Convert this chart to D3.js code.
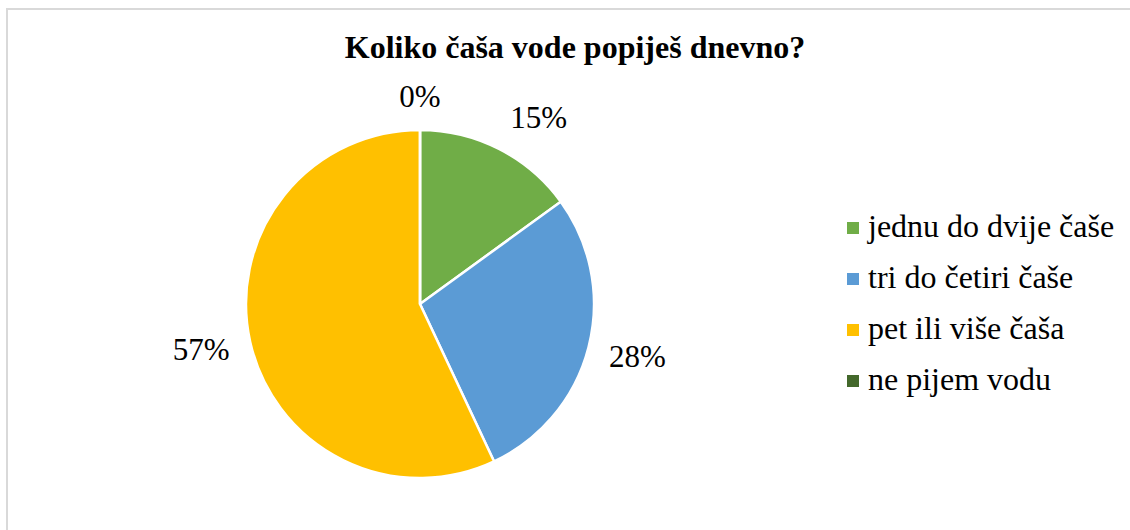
<!DOCTYPE html>
<html>
<head>
<meta charset="utf-8">
<script src="https://cdn.jsdelivr.net/npm/d3@7"></script>
<style>
  html, body { margin: 0; padding: 0; background: #fff; }
  svg { display: block; }
  .serif { font-family: "Liberation Serif", "Times New Roman", Times, serif; }
</style>
</head>
<body>
<svg id="chart" width="1130" height="530"></svg>
<script>
const title = "Koliko čaša vode popiješ dnevno?";
const categories = ["jednu do dvije čaše", "tri do četiri čaše", "pet ili više čaša", "ne pijem vodu"];
const values = [15, 28, 57, 0];
const colors = ["#70AD47", "#5B9BD5", "#FFC000", "#43682B"];

const svg = d3.select("#chart");

// chart border
svg.append("rect")
  .attr("x", 7).attr("y", 9).attr("width", 1300).attr("height", 700)
  .attr("fill", "#fff").attr("stroke", "#d9d9d9").attr("stroke-width", 2);

svg.append("text")
  .attr("class", "serif")
  .attr("x", 575).attr("y", 58)
  .attr("text-anchor", "middle")
  .style("font-weight", "bold").style("font-size", "32px")
  .attr("fill", "#000")
  .text(title);

const cx = 420, cy = 304, r = 174;
const color = d3.scaleOrdinal().domain(categories).range(colors);
const total = d3.sum(values);
const pie = d3.pie().sort(null).value(d => d.v);
const data = pie(categories.map((c, i) => ({ c, v: values[i] })));
const arc = d3.arc().innerRadius(0).outerRadius(r);

const g = svg.append("g").attr("transform", `translate(${cx},${cy})`);
g.selectAll("path").data(data).enter().append("path")
  .attr("d", arc)
  .attr("fill", d => color(d.data.c))
  .attr("stroke", "#fff").attr("stroke-width", 2.5).attr("stroke-linejoin", "round");

// labels outside end
const fmt = d => Math.round(d.data.v / total * 100) + "%";
const labelR = r + 18;
const fs = 31;
data.forEach(d => {
  const a = (d.startAngle + d.endAngle) / 2;
  let s = Math.sin(a), c = Math.cos(a);
  if (Math.abs(s) < 1e-6) s = 0;
  if (Math.abs(c) < 1e-6) c = 0;
  const t = g.append("text")
    .attr("class", "serif")
    .style("font-size", fs + "px").style("font-weight", "normal")
    .attr("fill", "#000")
    .attr("text-anchor", "middle")
    .text(fmt(d));
  const bb = t.node().getBBox();
  const w = bb.width, h = fs;
  const m = Math.max(Math.abs(s), Math.abs(c));
  const x = labelR * s + (w / 2 + 3) * Math.sign(s);
  const y = -labelR * c - (h / 2) * (c / m);
  t.attr("x", x).attr("y", y + fs * 0.35);
});

// legend
const lg = svg.append("g");
categories.forEach((cat, i) => {
  const yc = 228 + i * 51;
  lg.append("rect")
    .attr("x", 847).attr("y", yc - 6).attr("width", 12).attr("height", 12)
    .attr("fill", color(cat));
  lg.append("text")
    .attr("class", "serif")
    .attr("x", 868).attr("y", yc + 9)
    .style("font-size", "32px").style("font-weight", "normal")
    .attr("fill", "#000")
    .text(cat);
});
</script>
</body>
</html>
